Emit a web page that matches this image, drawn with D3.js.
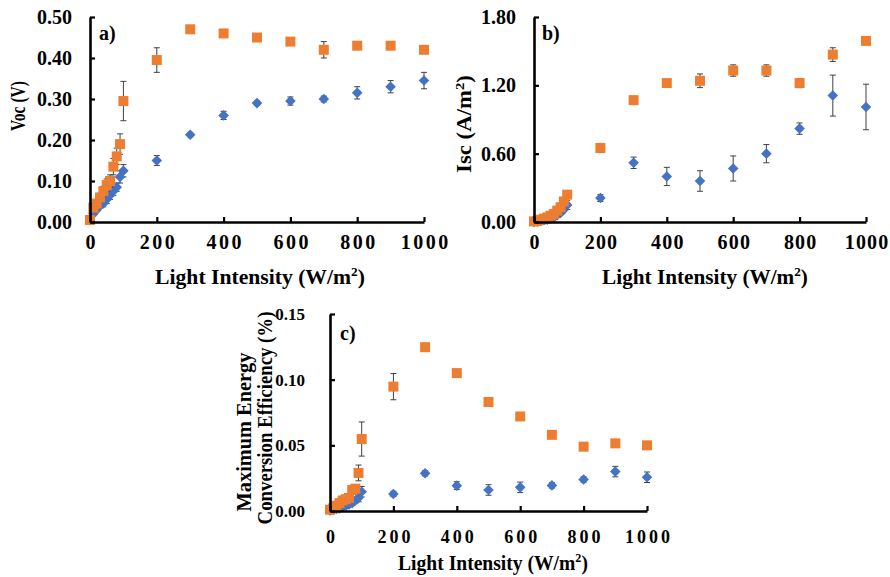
<!DOCTYPE html>
<html><head><meta charset="utf-8">
<script src="https://cdn.jsdelivr.net/npm/d3@7"></script>
<style>
body{margin:0;background:#fff}
text{font-family:"Liberation Serif","Times New Roman",serif;font-weight:bold;fill:#000}
</style>
</head><body>
<svg id="chart" width="890" height="577"></svg>
<script>
// ---------- data ----------
const intensity = [0,10,20,30,40,50,60,70,80,90,100,200,300,400,500,600,700,800,900,1000];
const xTicks = [0,200,400,600,800,1000];

const vocBlue      = [0.005,0.02,0.03,0.04,0.045,0.055,0.065,0.075,0.085,0.11,0.125,0.15,0.213,0.26,0.29,0.295,0.30,0.315,0.33,0.345];
const vocBlueErr   = [0.003,0.005,0.005,0.006,0.008,0.01,0.01,0.01,0.01,0.015,0.015,0.012,0.005,0.01,0.005,0.01,0.007,0.015,0.015,0.02];
const vocOrange    = [0.005,0.035,0.045,0.06,0.075,0.09,0.10,0.135,0.16,0.19,0.295,0.395,0.47,0.46,0.45,0.44,0.42,0.43,0.43,0.42];
const vocOrangeErr = [0.003,0.005,0.008,0.01,0.012,0.015,0.015,0.02,0.02,0.025,0.048,0.03,0.005,0.005,0.005,0.005,0.02,0.008,0.005,0.005];
const vocTicks = [0,0.1,0.2,0.3,0.4,0.5];

const iscBlue      = [0.0,0.005,0.01,0.015,0.02,0.03,0.04,0.06,0.08,0.11,0.15,0.21,0.52,0.40,0.36,0.47,0.60,0.82,1.11,1.01];
const iscBlueErr   = [0.002,0.003,0.004,0.005,0.006,0.008,0.01,0.01,0.015,0.02,0.04,0.03,0.05,0.08,0.09,0.11,0.08,0.05,0.18,0.20];
const iscOrange    = [0.005,0.01,0.02,0.03,0.04,0.055,0.07,0.10,0.13,0.18,0.24,0.65,1.07,1.22,1.24,1.33,1.33,1.22,1.47,1.59];
const iscOrangeErr = [0.003,0.003,0.005,0.005,0.006,0.006,0.008,0.01,0.01,0.015,0.02,0.04,0.03,0.01,0.06,0.05,0.05,0.04,0.06,0.02];
const iscTicks = [0,0.6,1.2,1.8];

const effBlue      = [0.0005,0.001,0.0015,0.002,0.003,0.004,0.005,0.006,0.008,0.010,0.0147,0.013,0.0287,0.0193,0.016,0.018,0.0195,0.024,0.030,0.0257];
const effBlueErr   = [0.0003,0.0003,0.0005,0.0005,0.0008,0.001,0.001,0.0015,0.002,0.003,0.004,0.002,0.002,0.003,0.004,0.004,0.002,0.002,0.004,0.004];
const effOrange    = [0.001,0.002,0.004,0.006,0.008,0.009,0.010,0.016,0.017,0.029,0.0548,0.0947,0.1247,0.105,0.083,0.072,0.058,0.049,0.0515,0.050];
const effOrangeErr = [0.0005,0.0008,0.001,0.001,0.0015,0.0015,0.002,0.003,0.003,0.006,0.013,0.01,0.003,0.001,0.003,0.001,0.001,0.003,0.001,0.001];
const effTicks = [0,0.05,0.10,0.15];

const BLUE = "#4472C4", ORANGE = "#ED7D31", ERR = "#404040";

const svg = d3.select("#chart");

function fitRotated(txt, cx, cy, len) {
  const w = txt.node().getComputedTextLength();
  txt.attr("transform", `translate(${cx},${cy}) rotate(-90) scale(${len / w},1)`);
}
function fitHoriz(txt, cx, cy, len) {
  const w = txt.node().getComputedTextLength();
  txt.attr("transform", `translate(${cx},${cy}) scale(${len / w},1)`);
}
function addLightTitle(g, size) {
  const t = g.append("text").attr("text-anchor", "middle").attr("dy", "0.35em").style("font-size", size + "px");
  t.append("tspan").text("Light Intensity (W/m");
  t.append("tspan").attr("dy", -size * 0.38).style("font-size", (size * 0.62) + "px").text("2");
  t.append("tspan").attr("dy", size * 0.38).text(")");
  return t;
}

function panel(p) {
  const g = svg.append("g");
  const x = d3.scaleLinear().domain([0, 1000]).range(p.xr);
  const y = d3.scaleLinear().domain(p.yd).range(p.yr);

  const series = [
    {v: p.blue, e: p.blueErr, c: BLUE, sym: "diamond"},
    {v: p.orange, e: p.orangeErr, c: ORANGE, sym: "square"}
  ];
  series.forEach(s => {
    const sg = g.append("g");
    const pts = intensity.map((xi, i) => ({x: xi, v: s.v[i], e: s.e[i]}));
    const eb = sg.selectAll("g.eb").data(pts).join("g").attr("stroke", ERR).attr("stroke-width", 1);
    eb.append("line").attr("x1", d => x(d.x)).attr("x2", d => x(d.x))
      .attr("y1", d => y(d.v - d.e)).attr("y2", d => y(d.v + d.e));
    eb.append("line").attr("x1", d => x(d.x) - 3).attr("x2", d => x(d.x) + 3)
      .attr("y1", d => y(d.v + d.e)).attr("y2", d => y(d.v + d.e));
    eb.append("line").attr("x1", d => x(d.x) - 3).attr("x2", d => x(d.x) + 3)
      .attr("y1", d => y(d.v - d.e)).attr("y2", d => y(d.v - d.e));
    const sym = s.sym === "square" ? d3.symbol(d3.symbolSquare, 100) : d3.symbol(d3.symbolSquare, 56);
    sg.selectAll("path.m").data(pts).join("path")
      .attr("d", sym)
      .attr("fill", s.c)
      .attr("transform", d => `translate(${x(d.x)},${y(d.v)})` + (s.sym === "diamond" ? " rotate(45)" : ""));
  });

  const xa = g.append("g").attr("transform", `translate(0,${p.yr[0]})`)
    .call(d3.axisBottom(x).tickValues(xTicks).tickSizeInner(-5).tickSizeOuter(0).tickPadding(p.xPad).tickFormat(d3.format("d")));
  xa.selectAll("text").style("font-size", p.xFont + "px").style("letter-spacing", p.xLS + "px").attr("dx", (p.xLS / 2) + "px")
    .style("font-family", '"Liberation Serif","Times New Roman",serif').style("font-weight", "bold").attr("fill", "#000");
  const ya = g.append("g").attr("transform", `translate(${p.xr[0]},0)`)
    .call(d3.axisLeft(y).tickValues(p.yTicks).tickSizeInner(-5).tickSizeOuter(0).tickPadding(p.yPad).tickFormat(d3.format(".2f")));
  ya.selectAll("text").style("font-size", p.yFont + "px")
    .style("font-family", '"Liberation Serif","Times New Roman",serif').style("font-weight", "bold").attr("fill", "#000");
  [xa, ya].forEach(a => {
    a.select(".domain").attr("stroke", "#000").attr("stroke-width", 2.6);
    a.selectAll(".tick line").attr("stroke", "#000").attr("stroke-width", 2.2);
  });

  g.append("text").attr("x", p.letter[0]).attr("y", p.letter[1]).style("font-size", "20px").text(p.letterText);

  const xt = addLightTitle(g, 20);
  fitHoriz(xt, p.xTitle[0], p.xTitle[1], p.xTitle[2]);
  return g;
}

panel({
  xr: [90, 424], yr: [222, 17], yd: [0, 0.5], yTicks: vocTicks,
  blue: vocBlue, blueErr: vocBlueErr, orange: vocOrange, orangeErr: vocOrangeErr,
  xPad: 13, xFont: 20, xLS: 2.5, yPad: 18, yFont: 20,
  letter: [99, 40], letterText: "a)", xTitle: [260, 277, 210]
});
panel({
  xr: [534, 866], yr: [222, 17], yd: [0, 1.8], yTicks: iscTicks,
  blue: iscBlue, blueErr: iscBlueErr, orange: iscOrange, orangeErr: iscOrangeErr,
  xPad: 13, xFont: 20, xLS: 1.2, yPad: 18, yFont: 20,
  letter: [542, 40], letterText: "b)", xTitle: [705, 277, 206]
});
panel({
  xr: [330, 647], yr: [511, 314], yd: [0, 0.15], yTicks: effTicks,
  blue: effBlue, blueErr: effBlueErr, orange: effOrange, orangeErr: effOrangeErr,
  xPad: 19, xFont: 18, xLS: 3, yPad: 25, yFont: 17,
  letter: [340, 340], letterText: "c)", xTitle: [493, 563, 190]
});

const voc = svg.append("text").attr("text-anchor", "middle").attr("dy", "0.35em").style("font-size", "20px").text("Voc (V)");
fitRotated(voc, 18, 106, 50);

const isc = svg.append("text").attr("text-anchor", "middle").attr("dy", "0.35em").style("font-size", "20px");
isc.append("tspan").text("Isc (A/m");
isc.append("tspan").attr("dy", -7).style("font-size", "13px").text("2");
isc.append("tspan").attr("dy", 7).text(")");
fitRotated(isc, 464, 124, 98);

const me1 = svg.append("text").attr("text-anchor", "middle").attr("dy", "0.35em").style("font-size", "20px").text("Maximum Energy");
fitRotated(me1, 244, 432, 159);
const me2 = svg.append("text").attr("text-anchor", "middle").attr("dy", "0.35em").style("font-size", "20px").text("Conversion Efficiency (%)");
fitRotated(me2, 265, 418, 213);
</script>
</body></html>
